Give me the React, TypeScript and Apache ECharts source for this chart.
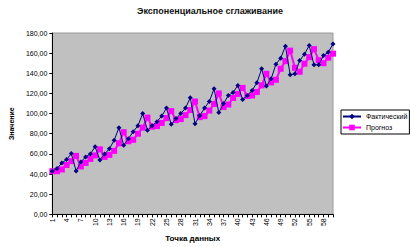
import React, { useEffect, useRef } from "react";
import * as echarts from "echarts";

const categories: string[] = Array.from({ length: 60 }, (_, i) => String(i + 1));

const actual: number[] = [
  42.8, 45.5, 51, 54.4, 60.3, 43, 52, 57, 60, 67,
  54, 60, 65, 73.5, 86, 68.5, 75, 82, 88, 100,
  83.4, 88, 92, 97.6, 105.5, 89.3, 95, 100, 105.5, 115.7,
  90, 98, 105.5, 112, 124.6, 101, 110, 118, 121, 128,
  114, 118, 123, 130.5, 144.4, 127.3, 134.5, 149, 155, 166.9,
  138.5, 139.5, 152.6, 159, 167.5, 148.4, 148.4, 157.6, 161, 169,
];

const forecast: number[] = [
  42.8, 42.8, 44.5, 49, 52.8, 58, 47.5, 51, 55, 58.5,
  64.5, 57, 59, 63, 70.5, 81.5, 72.5, 74, 80, 86,
  96, 87, 87.7, 90.7, 95.5, 102.5, 93.5, 94.5, 98.5, 103.5,
  112, 96.5, 97.5, 103, 109.5, 120, 106.5, 109, 115.5, 119.5,
  125.5, 117.5, 118, 121.5, 128, 139.5, 131, 133.5, 144.5, 152,
  162.5, 145.5, 141.5, 149.5, 156, 164, 153, 150, 155.5, 159.5,
];

const title = "Экспоненциальное сглаживание";
const seriesNames = ["Фактический", "Прогноз"];
const xName = "Точка данных";
const yName = "Значение";

export default function App() {
  const ref = useRef<HTMLDivElement>(null);
  useEffect(() => {
    if (!ref.current) return;
    const chart = echarts.init(ref.current, null, { renderer: "svg" });
    const font = "Liberation Sans, Arial, sans-serif";
    chart.setOption({
      animation: false,
      backgroundColor: "#ffffff",
      textStyle: { fontFamily: font },
      title: {
        text: title,
        left: 205,
        textAlign: "center",
        top: 1,
        textStyle: { fontSize: 9, fontWeight: "bold", color: "#111", fontFamily: font },
      },
      legend: {
        orient: "vertical",
        left: 341,
        top: 110,
        itemWidth: 18,
        itemHeight: 7,
        itemGap: 4,
        padding: [3, 2, 3, 1],
        borderColor: "#000",
        borderWidth: 1,
        textStyle: { fontSize: 7, color: "#000", fontFamily: font },
        data: seriesNames,
      },
      grid: {
        left: 41,
        right: 77,
        top: 33,
        bottom: 31,
        show: true,
        backgroundColor: "#c0c0c0",
        borderColor: "#9a9a9a",
        borderWidth: 1,
      },
      xAxis: {
        type: "category",
        data: categories,
        boundaryGap: false,
        name: xName,
        nameLocation: "middle",
        nameGap: 19,
        nameTextStyle: { fontSize: 8, color: "#000", fontWeight: "bold", fontFamily: font },
        axisLine: { lineStyle: { color: "#000", width: 1 } },
        axisTick: { show: true, interval: 0, length: 3, lineStyle: { color: "#000" } },
        axisLabel: { interval: 2, rotate: 90, fontSize: 7, color: "#000", margin: 4, fontFamily: font },
        splitLine: { show: false },
      },
      yAxis: {
        type: "value",
        min: 0,
        max: 180,
        interval: 20,
        name: yName,
        nameLocation: "middle",
        nameGap: 33,
        nameRotate: 90,
        nameTextStyle: { fontSize: 7, color: "#000", fontWeight: "bold", fontFamily: font },
        axisLine: { show: true, lineStyle: { color: "#000", width: 1 } },
        axisTick: { show: true, length: 3, lineStyle: { color: "#000" } },
        axisLabel: {
          fontSize: 7,
          color: "#000",
          margin: 5,
          fontFamily: font,
          formatter: (v: number) => v.toFixed(2).replace(".", ","),
        },
        splitLine: { show: false },
      },
      series: [
        {
          name: seriesNames[0],
          type: "line",
          data: actual,
          color: "#000080",
          symbol: "diamond",
          symbolSize: 5,
          showAllSymbol: true,
          lineStyle: { color: "#000080", width: 1 },
          itemStyle: { color: "#000080" },
          z: 3,
        },
        {
          name: seriesNames[1],
          type: "line",
          data: forecast,
          color: "#ff00ff",
          symbol: "rect",
          symbolSize: 6,
          showAllSymbol: true,
          lineStyle: { color: "#ff00ff", width: 2 },
          itemStyle: { color: "#ff00ff" },
          z: 2,
        },
      ],
    });
    return () => chart.dispose();
  }, []);
  return (
    <div
      ref={ref}
      style={{ position: "fixed", left: 0, top: 0, width: 410, height: 247 }}
    />
  );
}
